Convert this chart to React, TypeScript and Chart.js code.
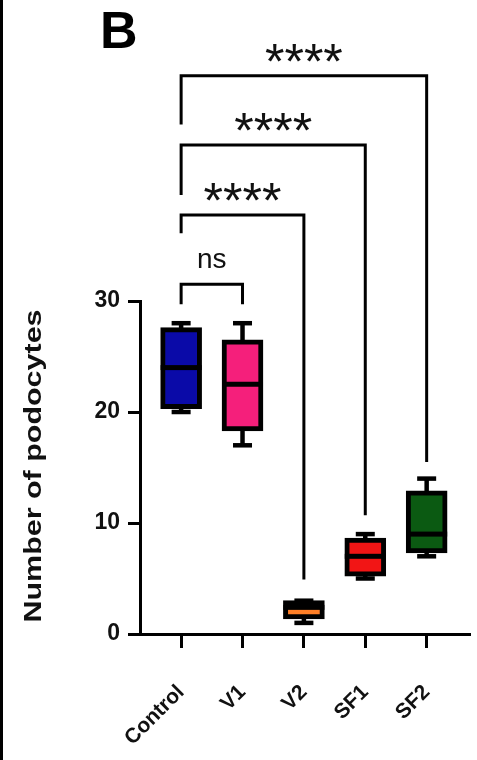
import React, { useEffect, useRef } from 'react';
import { Chart, registerables } from 'chart.js';

Chart.register(...registerables);

// ---- data ----
const categories = ['Control', 'V1', 'V2', 'SF1', 'SF2'];
const whiskerMin = [20, 17, 1, 5, 7];
const q1 = [20.3, 18.3, 1.35, 5.2, 7.3];
const median = [24, 22.5, 2.4, 7, 9];
const q3 = [27.6, 26.5, 3, 8.65, 12.9];
const whiskerMax = [28, 28, 3, 9, 14];
const boxColors = ['#0a0aa8', '#f51f7b', '#ff7f27', '#f21515', '#0b5a12'];
const yTicks = [0, 10, 20, 30];

// significance comparisons (data units)
const compFrom = [0, 0, 0, 0];
const compTo = [4, 3, 2, 1];
const compLabels = ['****', '****', '****', 'ns'];
const compLevel = [50.3, 44.05, 37.75, 31.5];
const compLeftEnd = [45.9, 39.55, 36.1, 29.7];
const compRightEnd = [15.5, 10.7, 4.9, 29.7];

const panelLetter = 'B';
const yTitle = 'Number of podocytes';

const FONT = '"Liberation Sans", Arial, Helvetica, sans-serif';
const INK = '#111';

const boxPlugin = {
  id: 'boxExtras',
  beforeDatasetsDraw(chart: any) {
    const { ctx, scales } = chart;
    const x = scales.x;
    const y = scales.y;
    ctx.save();
    ctx.strokeStyle = '#000';
    ctx.fillStyle = '#000';
    ctx.lineWidth = 4.5;
    categories.forEach((_, i) => {
      const px = x.getPixelForValue(i);
      ctx.beginPath();
      ctx.moveTo(px, y.getPixelForValue(whiskerMin[i]));
      ctx.lineTo(px, y.getPixelForValue(whiskerMax[i]));
      ctx.stroke();
      [whiskerMin[i], whiskerMax[i]].forEach((v) => {
        const py = y.getPixelForValue(v);
        ctx.fillRect(px - 9.5, py - 2.25, 19, 4.5);
      });
    });
    ctx.restore();
  },
  afterDatasetsDraw(chart: any) {
    const { ctx, scales } = chart;
    const x = scales.x;
    const y = scales.y;
    ctx.save();
    ctx.fillStyle = '#000';
    categories.forEach((_, i) => {
      const px = x.getPixelForValue(i);
      const py = y.getPixelForValue(median[i]);
      ctx.fillRect(px - 20.5, py - 2.5, 41, 5);
    });
    ctx.restore();
  },
  afterDraw(chart: any) {
    const { ctx, scales } = chart;
    const x = scales.x;
    const y = scales.y;
    ctx.save();
    // left frame line
    ctx.fillStyle = '#000';
    ctx.fillRect(0, 0, 3, chart.height);

    // significance brackets
    ctx.strokeStyle = '#000';
    ctx.lineWidth = 3;
    ctx.lineJoin = 'miter';
    ctx.lineCap = 'butt';
    compFrom.forEach((from, k) => {
      const xl = x.getPixelForValue(from);
      const xr = x.getPixelForValue(compTo[k]);
      const yl = y.getPixelForValue(compLevel[k]);
      ctx.beginPath();
      ctx.moveTo(xl, y.getPixelForValue(compLeftEnd[k]));
      ctx.lineTo(xl, yl);
      ctx.lineTo(xr, yl);
      ctx.lineTo(xr, y.getPixelForValue(compRightEnd[k]));
      ctx.stroke();

      const label = compLabels[k];
      const isStars = label.indexOf('*') >= 0;
      ctx.font = isStars ? `50px ${FONT}` : `28px ${FONT}`;
      ctx.fillStyle = INK;
      ctx.textAlign = 'center';
      ctx.textBaseline = 'alphabetic';
      const m = ctx.measureText(label);
      const bottom = yl - (isStars ? 14 : 16);
      ctx.fillText(label, (xl + xr) / 2, bottom - m.actualBoundingBoxDescent);
    });

    // panel letter
    ctx.fillStyle = '#000';
    ctx.font = `bold 52px ${FONT}`;
    ctx.textAlign = 'left';
    ctx.textBaseline = 'alphabetic';
    ctx.fillText(panelLetter, 100, 48);

    // y title (stretched along its length)
    ctx.save();
    ctx.translate(41, 466);
    ctx.rotate(-Math.PI / 2);
    ctx.font = `bold 23px ${FONT}`;
    const w = ctx.measureText(yTitle).width;
    ctx.scale(313 / w, 1);
    ctx.fillStyle = INK;
    ctx.textAlign = 'center';
    ctx.fillText(yTitle, 0, 0);
    ctx.restore();

    ctx.restore();
  },
};

export default function App() {
  const ref = useRef<HTMLCanvasElement | null>(null);
  useEffect(() => {
    if (!ref.current) return;
    const chart = new Chart(ref.current, {
      type: 'bar',
      data: {
        datasets: [
          {
            data: categories.map((_, i) => ({ x: i, y: [q1[i], q3[i]] })) as any,
            backgroundColor: boxColors,
            borderColor: '#000',
            borderWidth: 5,
            borderSkipped: false,
            barThickness: 41,
          } as any,
        ],
      },
      options: {
        responsive: false,
        animation: false,
        layout: { padding: { top: 301, right: 4, left: 0, bottom: 0 } },
        plugins: { legend: { display: false }, tooltip: { enabled: false } },
        scales: {
          x: {
            type: 'linear',
            min: -0.67,
            max: 4.7,
            offset: false,
            afterBuildTicks: (s: any) => {
              s.ticks = categories.map((_, i) => ({ value: i }));
            },
            afterFit: (s: any) => {
              s.height = 126;
            },
            ticks: {
              callback: (v: any) => categories[v as number],
              minRotation: 45,
              maxRotation: 45,
              autoSkip: false,
              color: INK,
              padding: 32,
              font: { family: FONT, size: 21, weight: 'bold' },
            },
            grid: { drawOnChartArea: false, offset: false, tickLength: 14, lineWidth: 3, color: '#000' },
            border: { display: true, width: 3, color: '#000' },
          } as any,
          y: {
            min: 0,
            max: 30,
            afterBuildTicks: (s: any) => {
              s.ticks = yTicks.map((v) => ({ value: v }));
            },
            afterFit: (s: any) => {
              s.width = 140;
            },
            ticks: {
              color: INK,
              padding: 8,
              font: { family: FONT, size: 23, weight: 'bold' },
            },
            grid: { drawOnChartArea: false, tickLength: 12, lineWidth: 3, color: '#000' },
            border: { display: true, width: 3, color: '#000' },
          } as any,
        },
      },
      plugins: [boxPlugin],
    });
    return () => chart.destroy();
  }, []);
  return (
    <div style={{ position: 'fixed', left: 0, top: 0, width: 477, height: 760, background: '#fff' }}>
      <canvas ref={ref} width={477} height={760} style={{ display: 'block' }} />
    </div>
  );
}
